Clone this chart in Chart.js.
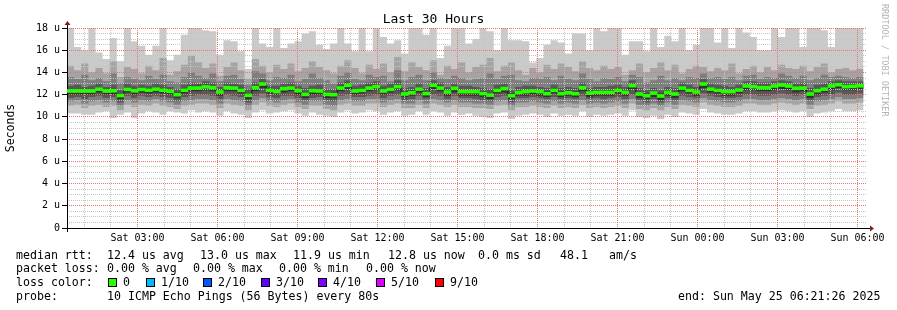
<!DOCTYPE html>
<html>
<head>
<meta charset="utf-8">
<script src="https://cdn.jsdelivr.net/npm/chart.js@4.4.1/dist/chart.umd.min.js"></script>
<style>
  body { margin: 0; background: #fff; }
  #wrap { position: relative; width: 897px; height: 310px; font-family: "DejaVu Sans Mono", monospace; font-size: 11.6px; color: #000; }
  #wrap canvas { position: absolute; left: 0; top: 0; }
  .t { position: absolute; white-space: pre; line-height: 14px; }
  .box { position: absolute; width: 7px; height: 7px; border: 1px solid #000; }
  #mark { position: absolute; left: 880px; top: 4px; writing-mode: vertical-rl; font-size: 8.5px; color: #b4b4b4; }
</style>
</head>
<body>
<div id="wrap">
  <canvas id="graph" width="897" height="310"></canvas>
  <canvas id="medianLayer" width="897" height="310"></canvas>
  <div id="mark">RRDTOOL / TOBI OETIKER</div>
</div>
<script>
// time axis: hours since Sat 00:00, graph covers Sat 00:21:26 .. Sun 06:21:26
const startHour = 0.3572;
const endHour = 30.3572;
const binHours = 16 / 60;

const tickHours = [3, 6, 9, 12, 15, 18, 21, 24, 27, 30];
const tickLabels = ['Sat 03:00', 'Sat 06:00', 'Sat 09:00', 'Sat 12:00', 'Sat 15:00',
                    'Sat 18:00', 'Sat 21:00', 'Sun 00:00', 'Sun 03:00', 'Sun 06:00'];
const yTicks = [0, 2, 4, 6, 8, 10, 12, 14, 16, 18];
const yLabels = ['0', '2 u', '4 u', '6 u', '8 u', '10 u', '12 u', '14 u', '16 u', '18 u'];

// median rtt per 16 min bin (us)
const medianRtt = [12.33,12.33,12.33,12.33,12.5,12.33,12.35,11.92,12.48,12.35,
  12.48,12.4,12.5,12.4,12.3,12.0,12.4,12.6,12.6,12.7,
  12.63,12.24,12.63,12.6,12.39,11.94,12.63,12.96,12.39,12.27,
  12.54,12.6,12.36,12.03,12.36,12.33,12.03,12.0,12.6,12.84,
  12.33,12.39,12.6,12.72,12.33,12.48,12.72,12.06,12.18,12.5,
  12.1,12.84,12.6,12.24,12.57,12.27,12.27,12.27,12.1,11.96,
  12.39,12.54,11.9,12.21,12.27,12.33,12.27,12.09,12.39,12.09,
  12.18,12.09,12.63,12.15,12.21,12.21,12.21,12.39,12.21,12.81,
  12.06,11.9,12.15,11.88,12.21,12.06,12.6,12.39,12.24,12.96,
  12.5,12.39,12.27,12.27,12.42,12.78,12.72,12.63,12.63,12.78,
  12.87,12.78,12.57,12.6,12.06,12.36,12.5,12.78,12.9,12.72,
  12.75,12.8];

// sorted pings per bin, ping1 = fastest .. ping10 = slowest
const ping10 = [18.5,16.3,16.0,18.5,15.8,15.2,17.1,15.0,18.5,16.8,
  16.4,15.6,16.4,18.5,15.1,15.6,17.4,18.5,18.5,17.8,
  17.7,15.6,16.9,16.8,15.9,14.3,18.5,16.6,16.3,18.5,
  16.2,16.6,16.8,17.5,17.7,16.5,16.1,16.6,18.5,16.6,
  15.9,18.5,15.9,18.5,17.2,16.6,16.9,15.7,18.5,18.5,
  17.4,18.5,15.3,16.4,18.5,18.5,16.6,17.0,18.5,17.7,
  16.0,18.5,16.9,16.9,16.8,14.9,15.3,16.5,16.9,16.7,
  15.7,17.5,17.5,16.0,18.5,17.7,18.5,18.5,15.6,16.8,
  16.8,15.9,18.5,16.3,17.3,16.8,18.5,16.0,16.5,18.5,
  18.5,16.7,18.5,16.2,18.5,17.6,17.2,16.0,16.0,18.5,
  17.2,18.5,18.5,16.3,18.5,18.5,17.8,16.3,18.5,18.5,
  18.5,18.5];
const ping9 = [14.6,14.2,14.8,14.0,14.4,13.9,15.0,13.6,14.5,14.3,
  13.9,14.6,14.2,15.3,13.8,14.1,14.7,15.5,14.9,14.4,
  14.8,13.7,14.5,14.9,14.2,13.4,15.2,14.6,14.0,14.7,
  14.3,14.8,14.1,14.4,15.0,14.5,14.2,13.9,14.6,15.1,
  14.4,13.9,14.7,14.3,14.8,14.0,15.4,14.1,14.9,14.5,
  14.2,15.1,13.8,14.6,14.3,14.9,14.0,14.5,14.7,15.3,
  14.1,14.6,14.9,14.2,13.8,14.4,14.0,14.7,14.3,14.8,
  14.5,14.1,15.0,14.4,14.2,14.6,14.3,14.5,13.8,14.2,
  14.8,14.0,14.4,14.9,14.2,14.7,13.9,14.3,14.6,14.5,
  14.1,14.4,14.2,14.8,13.9,14.3,14.6,14.0,14.5,14.2,
  14.7,14.4,14.3,14.6,14.1,14.5,14.8,14.0,14.3,14.4,
  14.2,14.3];
const ping8 = [13.6,13.4,13.8,13.3,13.5,13.2,13.9,13.0,13.6,13.4,
  13.3,13.7,13.4,13.8,13.2,13.1,13.6,14.0,13.7,13.5,
  13.9,13.2,13.7,13.8,13.4,12.9,14.1,13.9,13.3,13.6,
  13.5,13.8,13.2,13.4,13.9,13.5,13.3,13.0,13.7,14.0,
  13.4,13.3,13.8,13.6,13.7,13.2,14.2,13.3,13.6,13.8,
  13.3,14.0,13.5,13.4,13.7,13.5,13.3,13.4,13.5,13.9,
  13.4,13.7,13.8,13.3,13.2,13.5,13.4,13.6,13.3,13.7,
  13.4,13.3,13.9,13.4,13.2,13.5,13.4,13.6,13.2,13.8,
  13.6,13.1,13.3,13.7,13.3,13.5,13.3,13.6,13.5,13.9,
  13.5,13.6,13.4,13.6,13.3,13.7,13.8,13.4,13.6,13.5,
  13.9,13.7,13.5,13.7,13.3,13.5,13.8,13.6,13.7,13.6,
  13.5,13.6];
const ping7 = [12.8,12.9,12.7,12.8,13.0,12.7,12.9,12.4,13.0,12.8,
  12.9,12.8,13.0,12.9,12.7,12.5,12.9,13.1,13.0,13.2,
  13.1,12.7,13.1,13.0,12.9,12.5,13.1,13.4,12.8,12.8,
  13.0,13.1,12.8,12.6,12.8,12.9,12.5,12.5,13.1,13.3,
  12.8,12.9,13.1,13.2,12.8,13.0,13.3,12.6,12.7,13.0,
  12.6,13.3,13.1,12.7,13.0,12.8,12.8,12.7,12.6,12.5,
  12.9,13.0,12.4,12.7,12.8,12.8,12.7,12.6,12.9,12.6,
  12.7,12.6,13.1,12.6,12.7,12.7,12.8,12.9,12.7,13.3,
  12.6,12.4,12.6,12.4,12.7,12.6,13.1,12.9,12.7,13.4,
  13.0,12.9,12.8,12.7,12.9,13.2,13.2,13.1,13.1,13.2,
  13.3,13.2,13.0,13.1,12.6,12.9,13.0,13.2,13.3,13.2,
  13.2,13.2];
const ping6 = [12.5,12.5,12.5,12.5,12.7,12.5,12.5,12.1,12.7,12.5,
  12.7,12.6,12.7,12.6,12.5,12.2,12.6,12.8,12.8,12.9,
  12.8,12.4,12.8,12.8,12.6,12.1,12.8,13.1,12.6,12.4,
  12.7,12.8,12.5,12.2,12.5,12.5,12.2,12.2,12.8,13.0,
  12.5,12.6,12.8,12.9,12.5,12.7,12.9,12.2,12.4,12.7,
  12.3,13.0,12.8,12.4,12.7,12.4,12.4,12.4,12.3,12.1,
  12.6,12.7,12.1,12.4,12.4,12.5,12.4,12.3,12.6,12.3,
  12.4,12.3,12.8,12.3,12.4,12.4,12.4,12.6,12.4,13.0,
  12.2,12.1,12.3,12.1,12.4,12.2,12.8,12.6,12.4,13.1,
  12.7,12.6,12.4,12.4,12.6,12.9,12.9,12.8,12.8,12.9,
  13.0,12.9,12.7,12.8,12.2,12.5,12.7,12.9,13.1,12.9,
  12.9,13.0];
const ping5 = [12.0,12.0,12.0,12.0,12.2,12.0,12.0,11.6,12.2,12.0,
  12.2,12.1,12.2,12.1,12.0,11.7,12.1,12.3,12.3,12.4,
  12.3,11.9,12.3,12.3,12.1,11.6,12.3,12.6,12.1,12.0,
  12.2,12.3,12.0,11.7,12.0,12.0,11.7,11.7,12.3,12.5,
  12.0,12.1,12.3,12.4,12.0,12.2,12.4,11.8,11.9,12.2,
  11.8,12.5,12.3,11.9,12.2,11.9,11.9,11.9,11.8,11.6,
  12.1,12.2,11.6,11.9,11.9,12.0,11.9,11.8,12.1,11.8,
  11.9,11.8,12.3,11.8,11.9,11.9,11.9,12.1,11.9,12.5,
  11.7,11.6,11.8,11.5,11.9,11.7,12.3,12.1,11.9,12.6,
  12.2,12.1,11.9,11.9,12.1,12.4,12.4,12.3,12.3,12.4,
  12.5,12.4,12.2,12.3,11.7,12.0,12.2,12.4,12.6,12.4,
  12.4,12.5];
const ping4 = [11.7,11.8,11.6,11.8,11.9,11.7,11.8,11.3,11.9,11.7,
  11.9,11.8,11.9,11.8,11.7,11.4,11.8,11.9,12.0,12.0,
  11.9,11.6,12.0,11.9,11.8,11.3,11.9,12.1,11.8,11.7,
  11.9,11.9,11.7,11.5,11.7,11.8,11.5,11.4,11.9,12.0,
  11.8,11.8,11.9,12.0,11.7,11.9,12.0,11.5,11.6,11.9,
  11.6,12.0,11.9,11.6,11.9,11.7,11.7,11.6,11.5,11.4,
  11.8,11.9,11.3,11.7,11.7,11.8,11.7,11.6,11.8,11.6,
  11.7,11.6,11.9,11.6,11.7,11.6,11.7,11.8,11.6,12.0,
  11.5,11.3,11.6,11.3,11.7,11.5,11.9,11.8,11.7,12.1,
  11.9,11.8,11.7,11.7,11.8,12.0,12.0,11.9,11.9,12.0,
  12.1,12.0,11.9,12.0,11.5,11.8,11.9,12.0,12.2,12.0,
  12.0,12.1];
const ping3 = [11.4,11.5,11.2,11.4,11.5,11.3,11.4,11.0,11.5,11.3,
  11.5,11.4,11.6,11.4,11.3,11.1,11.4,11.5,11.6,11.6,
  11.5,11.2,11.6,11.5,11.4,11.0,11.5,11.7,11.4,11.3,
  11.5,11.6,11.3,11.1,11.4,11.4,11.1,11.0,11.5,11.6,
  11.4,11.4,11.6,11.6,11.3,11.5,11.6,11.2,11.2,11.5,
  11.2,11.6,11.5,11.3,11.5,11.3,11.3,11.2,11.2,11.1,
  11.4,11.5,11.0,11.3,11.3,11.4,11.3,11.2,11.4,11.2,
  11.3,11.2,11.5,11.2,11.3,11.2,11.3,11.4,11.2,11.6,
  11.1,11.0,11.2,11.0,11.3,11.1,11.5,11.4,11.3,11.7,
  11.5,11.4,11.3,11.3,11.4,11.6,11.6,11.5,11.5,11.6,
  11.7,11.6,11.5,11.6,11.1,11.4,11.5,11.6,11.8,11.6,
  11.6,11.7];
const ping2 = [11.0,11.1,10.8,11.0,11.1,10.9,11.0,10.6,11.1,10.9,
  11.1,11.0,11.2,11.0,10.9,10.7,11.0,11.1,11.2,11.2,
  11.1,10.8,11.2,11.1,11.0,10.6,11.1,11.3,11.0,10.9,
  11.1,11.2,10.9,10.7,11.0,11.0,10.7,10.6,11.1,11.2,
  11.0,11.0,11.2,11.2,10.9,11.1,11.2,10.8,10.8,11.1,
  10.8,11.2,11.1,10.9,11.1,10.9,10.9,10.8,10.8,10.7,
  11.0,11.1,10.6,10.9,10.9,11.0,10.9,10.8,11.0,10.8,
  10.9,10.8,11.1,10.8,10.9,10.8,10.9,11.0,10.8,11.2,
  10.7,10.6,10.8,10.6,10.9,10.7,11.1,11.0,10.9,11.3,
  11.1,11.0,10.9,10.9,11.0,11.2,11.2,11.1,11.1,11.2,
  11.3,11.2,11.1,11.2,10.7,11.0,11.1,11.2,11.4,11.2,
  11.2,11.3];
const ping1 = [10.3,10.3,10.2,10.2,10.4,10.5,9.9,10.2,10.4,9.9,
  10.3,10.5,10.4,10.2,10.5,10.4,10.3,10.6,10.4,10.5,
  10.4,10.1,10.5,10.3,10.2,9.9,10.4,10.6,10.3,10.4,
  10.5,10.6,10.3,10.1,10.4,10.2,10.1,10.0,10.4,10.6,
  10.3,10.4,10.6,10.5,10.2,10.4,10.5,10.1,10.2,10.5,
  10.2,10.5,10.4,10.1,10.4,10.2,10.3,10.1,10.0,9.9,
  10.3,10.4,9.8,10.1,10.2,10.3,10.2,10.0,10.3,10.1,
  10.2,10.1,10.5,10.0,10.2,10.1,10.2,10.3,10.1,10.6,
  10.0,9.9,10.1,9.8,10.2,10.0,10.4,10.3,10.2,10.7,
  10.4,10.3,10.2,10.2,10.3,10.5,10.5,10.4,10.4,10.5,
  10.6,10.5,10.4,10.5,10.0,10.3,10.4,10.5,10.7,10.5,
  10.5,10.6];

// legend texts
const legendRows = [
  [255, [[16, 'median rtt:'], [107, '12.4 us avg'], [200, '13.0 us max'], [293, '11.9 us min'],
         [388, '12.8 us now'], [478, '0.0 ms sd'], [560, '48.1'], [609, 'am/s']]],
  [268, [[16, 'packet loss:'], [107, '0.00 % avg'], [193, '0.00 % max'], [279, '0.00 % min'], [366, '0.00 % now']]],
  [282, [[16, 'loss color:']]],
  [296, [[16, 'probe:'], [107, '10 ICMP Echo Pings (56 Bytes) every 80s'], [678, 'end: Sun May 25 06:21:26 2025']]]
];
const lossLabels = ['0', '1/10', '2/10', '3/10', '4/10', '5/10', '9/10'];
const lossColors = ['#26ff00', '#00b8ff', '#0059ff', '#5e00ff', '#7e00ff', '#dd00ff', '#ff0000'];
const lossBoxX = [108, 146, 203, 261, 318, 376, 435];

const wrap = document.getElementById('wrap');
legendRows.forEach(([y, items]) => {
    items.forEach(([x, text]) => {
        const el = document.createElement('div');
        el.className = 't';
        el.style.left = x + 'px';
        el.style.top = (y - 7) + 'px';
        el.textContent = text;
        wrap.appendChild(el);
    });
});
lossLabels.forEach((label, i) => {
    const box = document.createElement('div');
    box.className = 'box';
    box.style.left = lossBoxX[i] + 'px';
    box.style.top = '278px';
    box.style.background = lossColors[i];
    wrap.appendChild(box);
    const el = document.createElement('div');
    el.className = 't';
    el.style.left = (lossBoxX[i] + 15) + 'px';
    el.style.top = '275px';
    el.textContent = label;
    wrap.appendChild(el);
});

// one point per bin start, plus a closing point so the last step has its width
function steps(values) {
    const pts = values.map((v, i) => ({ x: startHour + i * binHours, y: v }));
    pts.push({ x: startHour + values.length * binHours, y: values[values.length - 1] });
    return pts;
}

function band(upper, lower, color, order) {
    return [
        { type: 'line', data: steps(upper), stepped: 'before', fill: '+1', backgroundColor: color,
          borderColor: 'rgba(0,0,0,0)', borderWidth: 0, pointRadius: 0, order: order },
        { type: 'line', data: steps(lower), stepped: 'before', fill: false,
          borderColor: 'rgba(0,0,0,0)', borderWidth: 0, pointRadius: 0, order: order }
    ];
}

// smoke bands go on the main canvas, under the grid
const smokeSets = [
    ...band(ping6, ping5, '#323232', 2),
    ...band(ping7, ping4, '#585858', 3),
    ...band(ping8, ping3, '#7e7e7e', 4),
    ...band(ping9, ping2, '#a4a4a4', 5),
    ...band(ping10, ping1, '#cacaca', 6)
];
// median goes on a second canvas, above the grid
const medianSets = [
    { type: 'bar', data: medianRtt.map((m, i) => ({ x: startHour + (i + 0.5) * binHours, y: [m - 0.135, m + 0.135] })),
      backgroundColor: '#26ff00', barPercentage: 1, categoryPercentage: 1, order: 0 },
    { type: 'line', data: steps(medianRtt), stepped: 'before', fill: false, borderColor: '#1a1a1a',
      borderWidth: 1, pointRadius: 0, order: 1 }
];

const majorGrid = '#f07070';
const minorGrid = '#c4c4c4';
const clear = 'rgba(0,0,0,0)';
const mono = 'DejaVu Sans Mono';

const axisArrows = {
    id: 'axisArrows',
    afterDraw(chart) {
        const { ctx, chartArea: a } = chart;
        ctx.save();
        ctx.strokeStyle = '#000';
        ctx.lineWidth = 1;
        ctx.beginPath();
        ctx.moveTo(62, a.bottom + 0.5);
        ctx.lineTo(a.right + 3, a.bottom + 0.5);
        ctx.moveTo(a.left + 0.5, a.bottom + 4);
        ctx.lineTo(a.left + 0.5, a.top - 4);
        ctx.stroke();
        ctx.fillStyle = '#7f1f1f';
        ctx.beginPath();
        ctx.moveTo(a.right + 3, a.bottom - 2.5);
        ctx.lineTo(a.right + 7, a.bottom + 0.5);
        ctx.lineTo(a.right + 3, a.bottom + 3.5);
        ctx.fill();
        ctx.beginPath();
        ctx.moveTo(a.left - 2.5, a.top - 3);
        ctx.lineTo(a.left + 0.5, a.top - 7);
        ctx.lineTo(a.left + 3.5, a.top - 3);
        ctx.fill();
        ctx.restore();
    }
};

const minorHours = [];
for (let h = Math.ceil(startHour); h <= Math.floor(endHour); h++) {
    if (!tickHours.includes(h)) minorHours.push(h);
}
const minorValues = [];
for (let v = 0.5; v < 18; v += 0.5) {
    if (!yTicks.includes(v)) minorValues.push(v);
}

// minor grid axes: no labels, no size, only dotted grid lines
function minorAxis(position, min, max, values, show) {
    return {
        type: 'linear', position: position, min: min, max: max, offset: false,
        afterBuildTicks(scale) { scale.ticks = values.map((v) => ({ value: v })); },
        afterFit(scale) {
            if (position === 'bottom') scale.height = 0; else scale.width = 0;
            scale.paddingLeft = scale.paddingRight = scale.paddingTop = scale.paddingBottom = 0;
        },
        ticks: { display: false, autoSkip: false },
        grid: { display: show, z: 1, offset: false, drawTicks: false, color: minorGrid },
        border: { display: false, dash: [1, 1] }
    };
}

// same geometry for both canvases; the overlay draws no text or grid
function graphOptions(show) {
    const ink = show ? '#000' : clear;
    return {
        responsive: false,
        animation: false,
        devicePixelRatio: 1,
        layout: { padding: { left: 0, right: 30, top: 0, bottom: 62 } },
        plugins: {
            legend: { display: false },
            tooltip: { enabled: false },
            title: {
                display: true,
                text: 'Last 30 Hours',
                color: ink,
                font: { family: mono, size: 13, weight: 'normal', lineHeight: 1.2 },
                padding: { top: 12, bottom: 0.4 }
            }
        },
        scales: {
            xMinor: minorAxis('bottom', startHour, endHour, minorHours, show),
            yMinor: minorAxis('left', 0, 18, minorValues, show),
            x: {
                type: 'linear',
                min: startHour,
                max: endHour,
                offset: false,
                afterBuildTicks(scale) {
                    scale.ticks = tickHours.map((h) => ({ value: h }));
                },
                afterFit(scale) {
                    scale.height = 20;
                    scale.paddingLeft = 0;
                    scale.paddingRight = 0;
                },
                ticks: {
                    autoSkip: false,
                    maxRotation: 0,
                    padding: 4,
                    color: ink,
                    font: { family: mono, size: 10 },
                    callback: (v) => tickLabels[tickHours.indexOf(v)]
                },
                grid: { display: show, z: 2, offset: false, drawTicks: false, color: majorGrid },
                border: { display: false, dash: [1, 1] }
            },
            y: {
                min: 0,
                max: 18,
                afterBuildTicks(scale) {
                    scale.ticks = yTicks.map((v) => ({ value: v }));
                },
                afterFit(scale) {
                    scale.width = 67;
                    scale.paddingTop = 0;
                    scale.paddingBottom = 0;
                },
                title: {
                    display: true,
                    text: 'Seconds',
                    color: ink,
                    font: { family: mono, size: 11.5 },
                    padding: { top: 4, bottom: 0 }
                },
                ticks: {
                    autoSkip: false,
                    padding: 2,
                    color: ink,
                    font: { family: mono, size: 10 },
                    callback: (v) => yLabels[yTicks.indexOf(v)]
                },
                grid: { display: show, z: 2, tickLength: 5, tickColor: '#000', color: majorGrid },
                border: { display: false, dash: [1, 1] }
            }
        }
    };
}

new Chart(document.getElementById('graph'), {
    data: { datasets: smokeSets },
    plugins: [axisArrows],
    options: graphOptions(true)
});

new Chart(document.getElementById('medianLayer'), {
    data: { datasets: medianSets },
    options: graphOptions(false)
});
</script>
</body>
</html>
